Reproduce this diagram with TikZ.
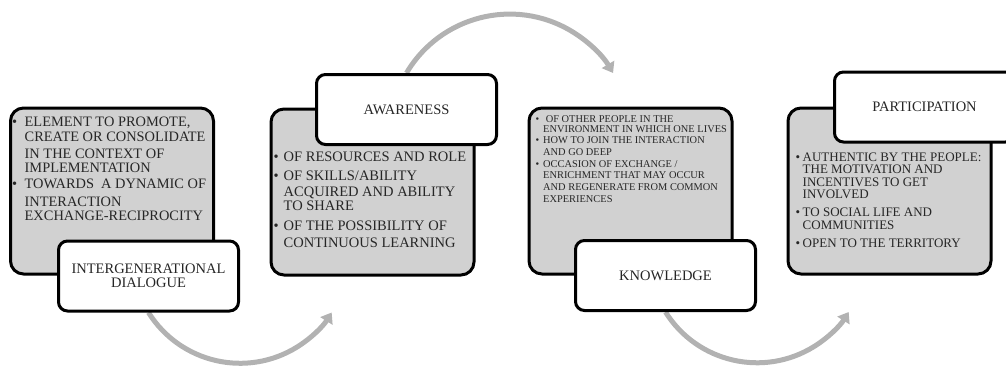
\documentclass[tikz,border=0pt]{standalone}
\usepackage{fontspec}
\setmainfont{Liberation Serif}
\usetikzlibrary{arrows.meta,backgrounds}

\newcommand{\bul}[1][10pt]{\makebox[#1][l]{\textbullet}}
\newcommand{\ind}[1][10pt]{\hspace*{#1}}

\tikzset{
  box/.style={draw, line width=3pt, rounded corners=13pt, fill=black!18,
    minimum width=203pt, minimum height=166pt, inner sep=0pt},
  tag/.style={draw, line width=3pt, rounded corners=9pt, fill=white,
    minimum width=180pt, minimum height=70pt, inner sep=0pt, align=center,
    text=black!85, font=\fontsize{14.5}{13.5}\selectfont},
  txt/.style={anchor=north west, align=left, inner sep=0pt, text=black!85},
  flow/.style={line width=5pt, black!30, -{Triangle[length=10pt,width=14pt]}}
}

\begin{document}
\begin{tikzpicture}[x=1pt, y=-1pt]
\useasboundingbox (0,0) rectangle (1006,367);
\clip (0,0) rectangle (1006,367);

% grey boxes
\node [box] (bx1) at (112,191) {};
\node [box] (bx2) at (372.5,192) {};
\node [box] (bx3) at (630.5,191) {};
\node [box] (bx4) at (889.5,191) {};

% box texts
\node [txt, font=\fontsize{14.4}{14.3}\selectfont] (tx1) at ([shift={(3,10.7)}]bx1.north west)
  {\bul[12.5pt]ELEMENT TO PROMOTE,\\ \ind[12.5pt]CREATE OR CONSOLIDATE\\[3pt]
   \ind[12.5pt]IN THE CONTEXT OF\\ \ind[12.5pt]IMPLEMENTATION\\[1pt]
   \bul[12.5pt]TOWARDS\ \ A DYNAMIC OF\\[4pt] \ind[12.5pt]INTERACTION\\
   \ind[12.5pt]EXCHANGE-RECIPROCITY};
\node [txt, font=\fontsize{14.5}{14}\selectfont] (tx2) at ([shift={(4,44.5)}]bx2.north west)
  {\bul OF RESOURCES AND ROLE\\[4.3pt] \bul OF SKILLS/ABILITY\\[2.7pt]
   \ind ACQUIRED AND ABILITY\\ \ind TO SHARE\\[6pt]
   \bul OF THE POSSIBILITY OF\\[2.7pt] \ind CONTINUOUS LEARNING};
\node [txt, font=\fontsize{10.4}{11.7}\selectfont] (tx3) at ([shift={(8,8.5)}]bx3.north west)
  {\bul[7.5pt]\ OF OTHER PEOPLE IN THE\\[-1.7pt] \ind[7.5pt]ENVIRONMENT IN WHICH ONE LIVES\\
   \bul[7.5pt]HOW TO JOIN THE INTERACTION\\ \ind[7.5pt]AND GO DEEP\\
   \bul[7.5pt]OCCASION OF EXCHANGE /\\ \ind[7.5pt]ENRICHMENT THAT MAY OCCUR\\
   \ind[7.5pt]AND REGENERATE FROM COMMON\\ \ind[7.5pt]EXPERIENCES};
\node [txt, font=\fontsize{13}{12.5}\selectfont] (tx4) at ([shift={(9,46)}]bx4.north west)
  {\bul[7pt]AUTHENTIC BY THE PEOPLE:\\ \ind[7pt]THE MOTIVATION AND\\
   \ind[7pt]INCENTIVES TO GET\\ \ind[7pt]INVOLVED\\[5.5pt]
   \bul[7pt]TO SOCIAL LIFE AND\\ \ind[7pt]COMMUNITIES\\[5.5pt]
   \bul[7pt]OPEN TO THE TERRITORY};

% white labels
\node [tag] (lab1) at (148.5,276) {INTERGENERATIONAL\\DIALOGUE};
\node [tag] (lab2) at (406.5,109.5) {AWARENESS};
\node [tag] (lab3) at (665.5,275.5) {KNOWLEDGE};
\node [tag] (lab4) at (924.5,107) {PARTICIPATION};

% arrows
\begin{pgfonlayer}{background}
\draw [flow] (lab1.south) arc [start angle=148, end angle=32, radius=108];
\draw [flow] (lab2.north) arc [start angle=210.6, end angle=329.4, radius=120];
\draw [flow] (lab3.south) arc [start angle=148, end angle=32, radius=108];
\end{pgfonlayer}
\end{tikzpicture}
\end{document}
